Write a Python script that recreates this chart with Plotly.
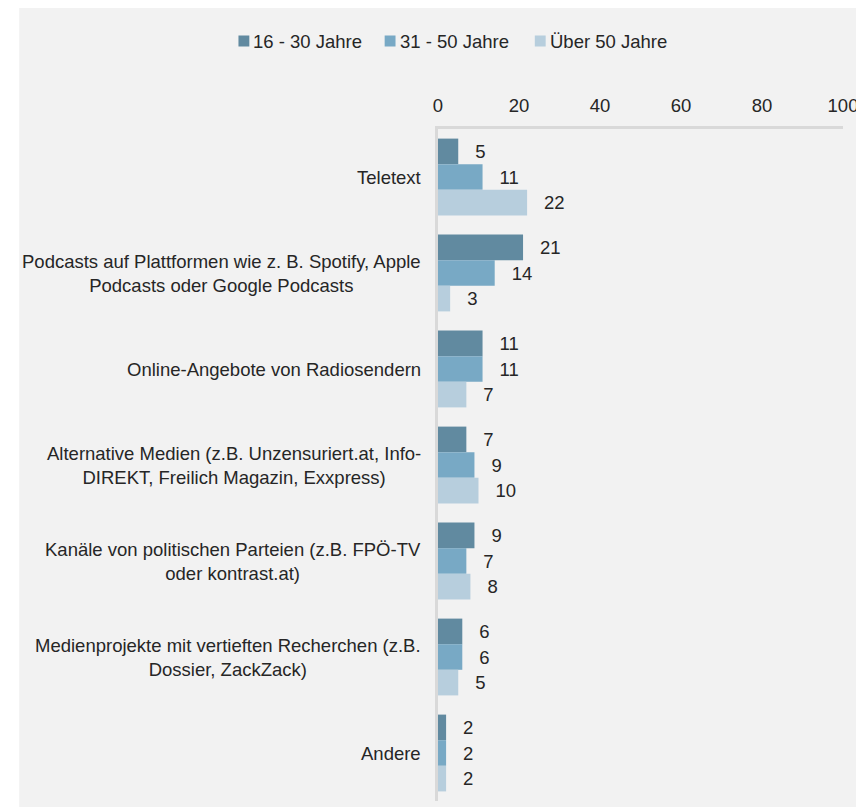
import plotly.graph_objects as go

categories = [
    "Teletext",
    "Podcasts auf Plattformen wie z. B. Spotify, Apple<br>Podcasts oder Google Podcasts",
    "Online-Angebote von Radiosendern",
    "Alternative Medien (z.B. Unzensuriert.at, Info-<br>DIREKT, Freilich Magazin, Exxpress)",
    "Kanäle von politischen Parteien (z.B. FPÖ-TV<br>oder kontrast.at)",
    "Medienprojekte mit vertieften Recherchen (z.B.<br>Dossier, ZackZack)",
    "Andere",
]
series_names = ["16 - 30 Jahre", "31 - 50 Jahre", "Über 50 Jahre"]
vals_16_30 = [5, 21, 11, 7, 9, 6, 2]
vals_31_50 = [11, 14, 11, 9, 7, 6, 2]
vals_50plus = [22, 3, 7, 10, 8, 5, 2]
x_ticks = [0, 20, 40, 60, 80, 100]

colors = ["#618aa0", "#78a9c5", "#b7cedd"]
font_family = "Liberation Sans, Arial, sans-serif"
text_color = "#262626"
FS = 18.5

# figure geometry (page body adds an 8px margin)
W, H = 856, 799
ML, MR, MT, MB = 430, 16, 121, 6
PW, PH = W - ML - MR, H - MT - MB


def px_x(px):
    return (px - ML) / PW


def px_y(py):
    return (H - MB - py) / PH


fig = go.Figure()
for name, vals, col in zip(series_names, [vals_16_30, vals_31_50, vals_50plus], colors):
    fig.add_trace(go.Bar(
        y=categories, x=vals, name=name, orientation="h",
        marker=dict(color=col, line=dict(width=0)),
        text=vals, texttemplate="\u00a0\u00a0\u2009%{x}", textposition="outside",
        textfont=dict(size=FS, color=text_color, family=font_family),
        cliponaxis=False, showlegend=False,
    ))

shapes = [dict(
    type="rect", xref="paper", yref="paper",
    x0=px_x(6), x1=1.2, y0=-0.05, y1=1.3,
    fillcolor="#f2f2f2", line=dict(width=0), layer="below",
)]
annotations = []

# manual legend (swatch + label)
legend_x = [228, 376, 528]
legend_yc = 33
for name, col, lx in zip(series_names, colors, legend_x):
    shapes.append(dict(
        type="rect", xref="paper", yref="paper",
        x0=px_x(lx), x1=px_x(lx + 11), y0=px_y(legend_yc + 5.5), y1=px_y(legend_yc - 5.5),
        fillcolor=col, line=dict(width=0), layer="above",
    ))
    annotations.append(dict(
        xref="paper", yref="paper", x=px_x(lx + 13), y=px_y(legend_yc),
        xanchor="left", yanchor="middle", text=name, showarrow=False,
        font=dict(size=FS, color=text_color, family=font_family),
    ))

# category labels (centre-aligned lines, right-anchored block)
for cat in categories:
    annotations.append(dict(
        xref="paper", yref="y", x=0, y=cat, xshift=-15,
        xanchor="right", yanchor="middle", align="center",
        text=cat, showarrow=False,
        font=dict(size=FS, color=text_color, family=font_family),
    ))

fig.update_layout(
    width=W, height=H,
    margin=dict(l=ML, r=MR, t=MT, b=MB),
    paper_bgcolor="white",
    plot_bgcolor="rgba(0,0,0,0)",
    barmode="group", bargap=0.2, bargroupgap=0,
    font=dict(family=font_family, size=FS, color=text_color),
    showlegend=False,
    xaxis=dict(
        side="top", range=[0, 100], tickvals=x_ticks, showgrid=False,
        zeroline=False, showline=True, linecolor="#d9d9d9", linewidth=3,
        ticks="outside", ticklen=7, tickcolor="rgba(0,0,0,0)",
        tickfont=dict(size=FS, color=text_color),
    ),
    yaxis=dict(
        autorange="reversed", showgrid=False, zeroline=False,
        showline=True, linecolor="#d9d9d9", linewidth=3,
        showticklabels=False, ticks="",
    ),
    shapes=shapes,
    annotations=annotations,
)

fig.write_html("out.html")
